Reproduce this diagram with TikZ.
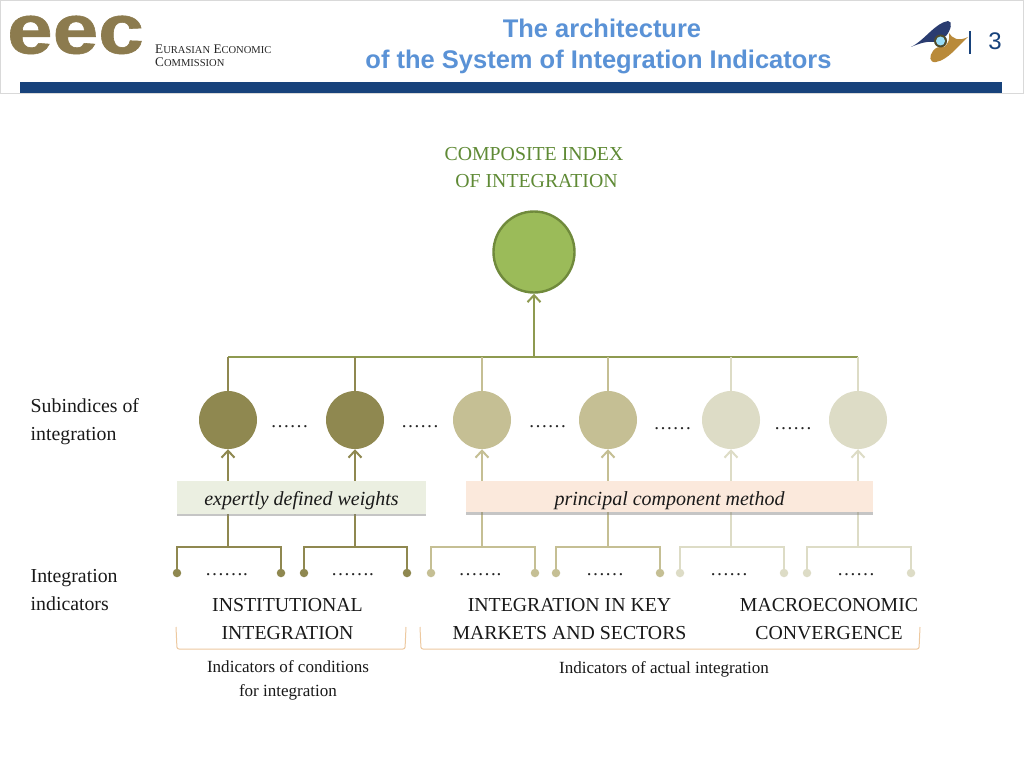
\documentclass[tikz,border=0pt]{standalone}
\usepackage{fontspec}
\setmainfont{Liberation Serif}
\newfontfamily\hsans{Liberation Sans}
\newfontfamily\logofont{Liberation Sans}[BoldFeatures={FakeBold=0.8}]
\usetikzlibrary{arrows.meta,shadows,calc}
\definecolor{olive}{HTML}{8F8850}
\definecolor{tan}{HTML}{C5BF94}
\definecolor{pale}{HTML}{DDDCC6}
\definecolor{topline}{HTML}{8E9A50}
\definecolor{leaf}{HTML}{9BBB59}
\definecolor{leafdark}{HTML}{708A3C}
\definecolor{leaftext}{HTML}{5F8A35}
\definecolor{eecgold}{HTML}{8C7B4E}
\definecolor{navy}{HTML}{17427B}
\definecolor{emblemnavy}{HTML}{2A3C70}
\definecolor{emblemgold}{HTML}{B98A3A}
\definecolor{titleblue}{HTML}{5A92D6}
\definecolor{bracket}{HTML}{EDC9A0}
\definecolor{bannergreen}{HTML}{EBEFE1}
\definecolor{bannerpeach}{HTML}{FBE9DC}
\tikzset{
  x=1pt,y=-1pt,
  body/.style={font=\fontsize{19.8}{27.3}\selectfont,align=center,inner sep=0pt,text=black!90},
  smalltxt/.style={font=\fontsize{17.05}{24}\selectfont,align=center,inner sep=0pt,text=black!90},
  sidetxt/.style={font=\fontsize{19.8}{27.5}\selectfont,align=left,anchor=west,inner sep=0pt,text=black!90},
  dotrow/.style={font=\fontsize{19}{19}\selectfont,inner sep=0pt,text=black!85},
  sub/.style={circle,minimum size=58pt,inner sep=0pt,fill=#1},
  leafdot/.style={circle,minimum size=8.5pt,inner sep=0pt,fill=#1},
  wire/.style={line width=2.2pt,draw=#1},
  arrowwire/.style={line width=2.2pt,draw=#1,-{Straight Barb[length=7pt,width=13pt,line width=2pt]}},
  banner/.style={minimum height=#1,inner sep=0pt,font=\fontsize{20}{24}\selectfont\itshape,text=black!90,
    drop shadow={shadow xshift=0pt,shadow yshift=-2.5pt,fill=black!50,opacity=.45}},
  bracketline/.style={line width=1pt,draw=bracket,rounded corners=2pt}
}
\begin{document}
\begin{tikzpicture}
\useasboundingbox (0,0) rectangle (1024,768);
\fill[white] (0,0) rectangle (1024,768);
% header
\draw[black!15,line width=.8pt] (0,.5) -- (1024,.5) (.5,0) -- (.5,93.5) -- (1023.5,93.5) -- (1023.5,0);
\fill[navy] (20,82) rectangle (1002,93);
\node[anchor=base,inner sep=0pt,text=eecgold,font=\logofont\bfseries\fontsize{78}{78}\selectfont] (logo) at (75.5,53.5) {\scalebox{1.05}[.9]{eec}};
\node[anchor=west,inner sep=0pt,align=left,text=black!85,font=\fontsize{13.2}{13.5}\selectfont] (org) at (155,55.5)
  {E\scalebox{.8}{URASIAN} E\scalebox{.8}{CONOMIC}\\C\scalebox{.8}{OMMISSION}};
\node[anchor=base,inner sep=0pt,text=titleblue,font=\hsans\bfseries\fontsize{25.5}{31}\selectfont] (t1) at (602,37.5) {The architecture};
\node[anchor=base,inner sep=0pt,text=titleblue,font=\hsans\bfseries\fontsize{25.5}{31}\selectfont] (t2) at (598.5,68) {of the System of Integration Indicators};
% emblem
\fill[emblemnavy] (911,47) .. controls (925,40) and (935,23) .. (948,21) .. controls (953,21) and (951,30) .. (946,36) .. controls (942,36) and (938,36) .. (934,42) .. controls (928,41) and (920,43) .. (911,47) -- cycle;
\fill[emblemgold] (968,37) .. controls (958,46) and (948,60) .. (936,62) .. controls (929,63) and (929,56) .. (933,51) .. controls (936,47) and (938,47) .. (944,47) .. controls (948,44) and (950,40) .. (949,33) .. controls (952,38) and (958,42) .. (968,37) -- cycle;
\fill[black!45!olive] (940.5,41) circle (6.5pt);
\fill[cyan!40] (940.5,41) circle (4.5pt);
\draw[navy,line width=1.1pt] (970,31) -- (970,54);
\node[inner sep=0pt,text=navy,font=\hsans\fontsize{24}{24}\selectfont] (page) at (995,41) {3};
% main labels
\node[body,text=leaftext] (ctitle) at (534,167.5) {COMPOSITE INDEX\\\hspace{5pt}OF INTEGRATION};
\node[circle,minimum size=81pt,inner sep=0pt,fill=leaf,draw=leafdark,line width=2.4pt] (root) at (534,252) {};
\node[sidetxt] (lsub) at (30.5,421.5) {Subindices of\\integration};
\node[sidetxt] (lind) at (30.5,590) {Integration\\indicators};
% wires behind
\coordinate (top) at (534,357);
\coordinate (hl) at (228,357);
\coordinate (hr) at (858,357);
\draw[wire=topline] (hl) -- (hr);
\draw[arrowwire=topline] (top) -- (root.south);
% subindices
\foreach \n/\x/\xa/\xb/\c in {s1/228/177/281/olive,s2/355/304/407/olive,s3/482/431/535/tan,s4/608/556/660/tan,s5/731/680/784/pale,s6/858/807/911/pale}{
  \node[sub=\c] (\n) at (\x,420) {};
  \coordinate (\n up) at (\x,357);
  \draw[wire=\c] (\n.north) -- (\n up);
  \coordinate (\n low) at (\x,547);
  \draw[arrowwire=\c] (\n low) -- (\n.south);
  \node[leafdot=\c] (\n a) at (\xa,573) {};
  \node[leafdot=\c] (\n b) at (\xb,573) {};
  \draw[wire=\c] (\n a.center) |- (\n low) -| (\n b.center);
}
% banners
\node[banner=33pt,minimum width=249pt,fill=bannergreen,text height=18pt,text depth=2pt] (b1) at (301.5,497) {expertly defined weights};
\node[banner=31pt,minimum width=407pt,fill=bannerpeach,text height=19pt,text depth=2pt] (b2) at (669.5,496.5) {principal component method};
% dots
\foreach \n/\x/\y/\t in {d1/289.5/427/……,d2/420/427/……,d3/547.5/427/……,d4/672.5/429/……,d5/793/429/……,
  e1/226.5/575/…….,e2/352.5/575/…….,e3/480/575/…….,e4/605/575/……,e5/729/575/……,e6/856/575/……}{
  \node[dotrow] (\n) at (\x,\y) {\t};
}
% group labels
\node[body] (g1) at (287.5,619) {INSTITUTIONAL\\INTEGRATION};
\node[body] (g2) at (569.5,619) {INTEGRATION IN KEY\\MARKETS AND SECTORS};
\node[body] (g3) at (829,619) {MACROECONOMIC\\CONVERGENCE};
\coordinate (br1a) at (176,627); \coordinate (br1b) at (406,627);
\coordinate (br2a) at (420,627); \coordinate (br2b) at (920,627);
\draw[bracketline] (br1a) -- ($(br1a)+(1,22)$) -- ($(br1b)+(-1,22)$) -- (br1b);
\draw[bracketline] (br2a) -- ($(br2a)+(1,22)$) -- ($(br2b)+(-1,22)$) -- (br2b);
\node[smalltxt] (c1) at (288,680) {Indicators of conditions\\for integration};
\node[smalltxt] (c2) at (664,669) {Indicators of actual integration};
\end{tikzpicture}
\end{document}
